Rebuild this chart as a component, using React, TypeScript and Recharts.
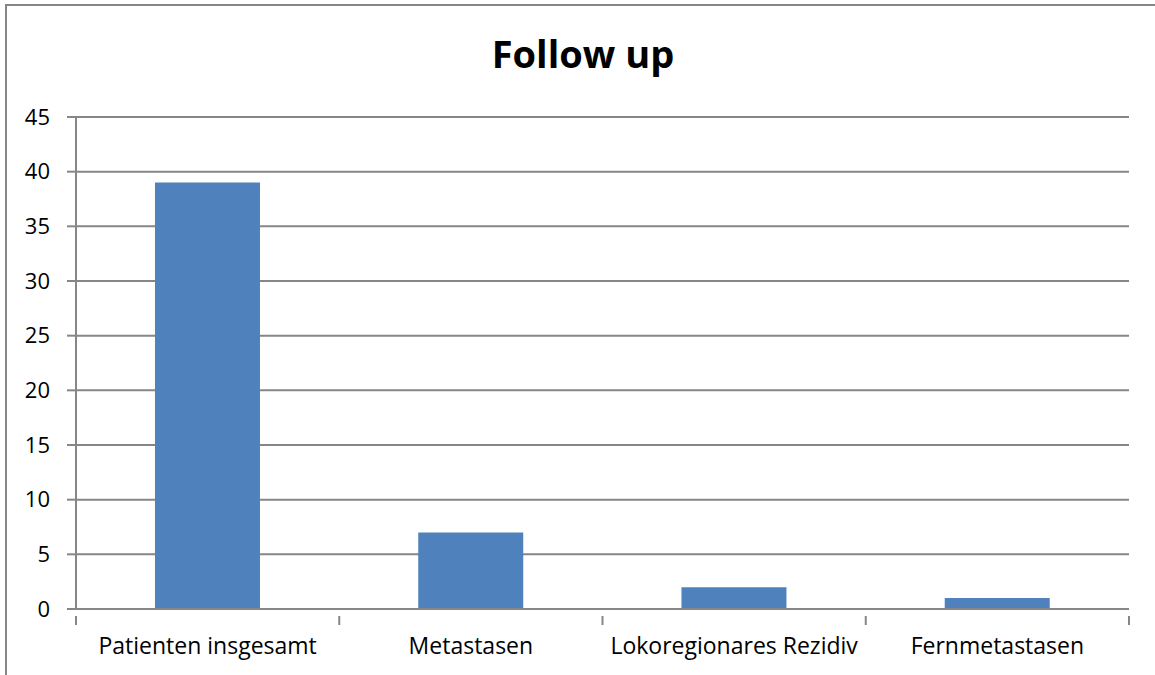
import React from 'react';
import { BarChart, Bar, XAxis, YAxis, CartesianGrid } from 'recharts';

const categories = ['Patienten insgesamt', 'Metastasen', 'Lokoregionares Rezidiv', 'Fernmetastasen'];
const patients = [39, 7, 2, 1];
const yTicks = [0, 5, 10, 15, 20, 25, 30, 35, 40, 45];

const data = categories.map((name, i) => ({ name, value: patients[i] }));

const W = 1155;
const H = 675;
const M = { top: 117, right: 26, left: 0, bottom: 0 };
const Y_AXIS_W = 76;
const AXIS = '#868686';
const FONT = '"Open Sans", Lato, sans-serif';

// band half-width so category tick marks sit on the boundaries, not the centres
const half = (W - M.left - M.right - Y_AXIS_W) / categories.length / 2;

function EdgeTick(props: any) {
  const { x, y, payload, index } = props;
  const last = index === categories.length - 1;
  return (
    <g>
      <line x1={x - half} x2={x - half} y1={y - 1} y2={y + 8} stroke={AXIS} strokeWidth={2} />
      {last && <line x1={x + half} x2={x + half} y1={y - 1} y2={y + 8} stroke={AXIS} strokeWidth={2} />}
      <text x={x} y={y + 21} dy="0.71em" textAnchor="middle" fill="#000" fontSize={23} fontFamily={FONT}>
        {payload.value}
      </text>
    </g>
  );
}

export default function App() {
  return (
    <div style={{ position: 'absolute', left: 0, top: 0, width: W, height: H, overflow: 'hidden', background: '#fff' }}>
      <div
        style={{
          position: 'absolute', left: 5, top: 4, width: W + 20, height: H + 20,
          border: `2px solid ${AXIS}`, boxSizing: 'border-box',
        }}
      />
      <div
        style={{
          position: 'absolute', left: 6, width: 1154, top: 28, textAlign: 'center',
          fontFamily: FONT, fontWeight: 700, fontSize: 38, color: '#000', lineHeight: '50px',
        }}
      >
        Follow up
      </div>
      <div style={{ position: 'absolute', left: 0, top: 0 }}>
        <BarChart width={W} height={H} data={data} margin={M} barCategoryGap="30%">
          <CartesianGrid vertical={false} stroke={AXIS} strokeWidth={2} />
          <XAxis
            dataKey="name"
            height={66}
            axisLine={{ stroke: AXIS, strokeWidth: 2 }}
            tickLine={false}
            interval={0}
            tick={<EdgeTick />}
          />
          <YAxis
            width={Y_AXIS_W}
            domain={[0, 45]}
            ticks={yTicks}
            interval={0}
            axisLine={{ stroke: AXIS, strokeWidth: 2 }}
            tickLine={{ stroke: AXIS, strokeWidth: 2 }}
            tickSize={9}
            tickMargin={17}
            tick={{ fill: '#000', fontSize: 22, fontFamily: FONT }}
          />
          <Bar dataKey="value" fill="#4F81BD" isAnimationActive={false} />
        </BarChart>
      </div>
    </div>
  );
}
